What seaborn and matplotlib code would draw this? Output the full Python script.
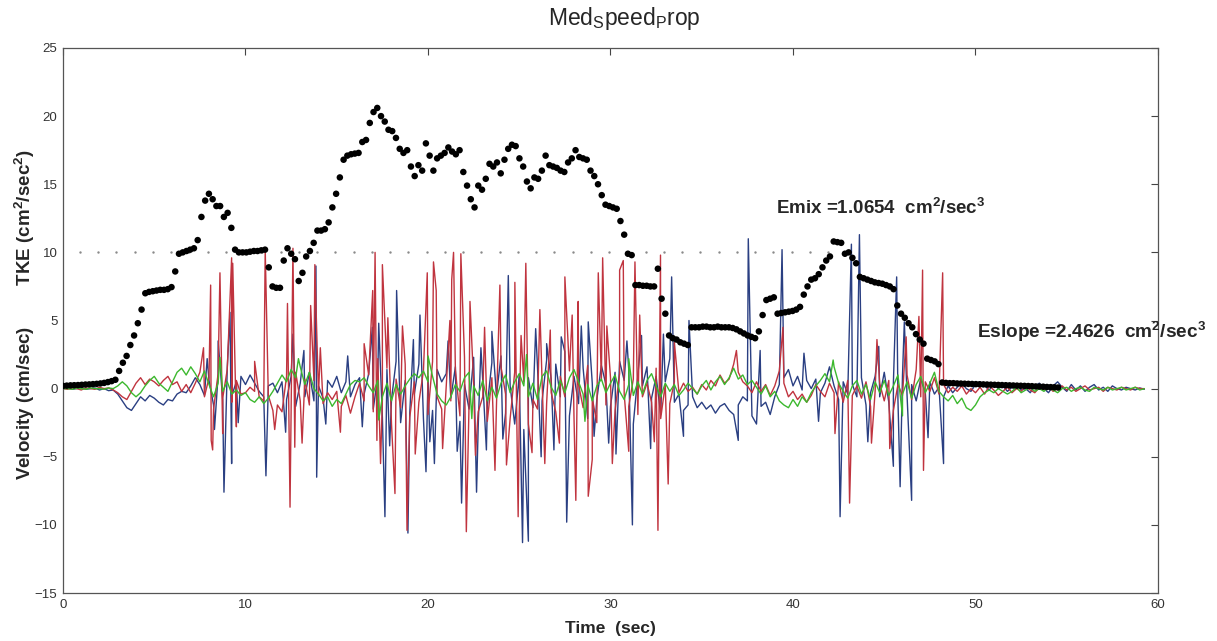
import numpy as np
import pandas as pd
import matplotlib
matplotlib.use("Agg")
import matplotlib.pyplot as plt
import seaborn as sns

# ---------------- data ----------------
title_text = r"Med$_\mathregular{S}$peed$_\mathregular{P}$rop"
x_ticks = [0, 10, 20, 30, 40, 50, 60]
y_ticks = [-15, -10, -5, 0, 5, 10, 15, 20, 25]
emix_text = r"Emix =1.0654  cm$^\mathregular{2}$/sec$^\mathregular{3}$"
eslope_text = r"Eslope =2.4626  cm$^\mathregular{2}$/sec$^\mathregular{3}$"
emix_level = 10.0

# TKE samples (one every 0.205 s)
tke_dt = 0.205
tke_vals = [
    0.20, 0.22, 0.24, 0.25, 0.26, 0.28, 0.30, 0.31, 0.33, 0.35, 0.38, 0.42, 0.48, 0.55, 0.65,
    1.3, 1.9, 2.4, 3.2, 3.9, 4.8, 5.8, 7.0, 7.1, 7.15,
    7.2, 7.25, 7.25, 7.3, 7.45, 8.6, 9.9, 10.0, 10.1, 10.2,
    10.3, 10.9, 12.6, 13.8, 14.3, 13.9, 13.4, 13.4, 12.6, 12.9,
    11.8, 10.2, 10.0, 10.0, 10.0, 10.05, 10.1, 10.1, 10.15, 10.2,
    8.9, 7.5, 7.4, 7.4, 9.4, 10.3, 9.9, 9.5, 7.9, 8.5,
    9.7, 10.1, 10.7, 11.6, 11.6, 11.7, 12.2, 13.3, 14.3, 15.5,
    16.8, 17.1, 17.2, 17.25, 17.3, 18.1, 18.25, 19.5, 20.3, 20.6,
    20.0, 19.6, 19.0, 18.9, 18.4, 17.6, 17.3, 17.5, 16.3, 15.6,
    16.4, 16.0, 18.0, 17.1, 16.0, 16.9, 17.1, 17.3, 17.7, 17.4,
    17.2, 17.5, 15.9, 14.9, 13.9, 13.3, 14.9, 14.6, 15.4, 16.5,
    16.3, 16.6, 15.8, 16.8, 17.6, 17.9, 17.8, 16.9, 16.3, 15.2,
    14.7, 15.5, 15.4, 16.0, 17.1, 16.4, 16.3, 16.2, 16.0, 15.9,
    16.6, 16.9, 17.5, 17.0, 16.9, 16.8, 16.0, 15.6, 15.0, 14.2,
    13.5, 13.4, 13.3, 13.2, 12.3, 11.3, 9.9, 9.8, 7.6, 7.6,
    7.55, 7.55, 7.5, 7.5, 8.8, 6.6, 5.5, 3.9, 3.7, 3.6,
    3.4, 3.3, 3.2, 4.5, 4.5, 4.5, 4.55, 4.55, 4.5, 4.5,
    4.55, 4.5, 4.5, 4.5, 4.45, 4.35, 4.2, 4.05, 3.9, 3.8,
    3.7, 4.2, 5.4, 6.5, 6.6, 6.7, 5.5, 5.55, 5.6, 5.65,
    5.7, 5.8, 6.0, 6.9, 7.5, 8.0, 8.1, 8.4, 8.9, 9.4,
    9.7, 10.8, 10.75, 10.7, 9.9, 10.0, 9.6, 9.2, 8.2, 8.1,
    8.0, 7.9, 7.8, 7.75, 7.7, 7.6, 7.5, 7.3, 6.1, 5.5,
    5.2, 4.8, 4.5, 4.0, 3.6, 3.3, 2.2, 2.1, 2.0, 1.8,
    0.45, 0.42, 0.40, 0.40, 0.38, 0.37, 0.36, 0.35, 0.34, 0.33,
    0.32, 0.31, 0.30, 0.29, 0.28, 0.27, 0.26, 0.25, 0.24, 0.23,
    0.22, 0.21, 0.20, 0.19, 0.18, 0.16, 0.15, 0.14, 0.12, 0.11,
    0.10, 0.08,
]

# velocity components, one sample every 0.25 s
vel_dt = 0.25
u_vals = [
    0.0, 0.05, -0.05, 0.0, 0.1, -0.05, 0.0, 0.05, -0.1, 0.0, -0.15, -0.1, -0.4, -0.9, -1.4, -1.6, -1.1, -0.6, -0.9, -0.5,
    -0.7, -1.0, -1.2, -0.8, -0.9, -0.4, -0.2, -0.3, 0.2, 0.8, 0.3, -0.5, 0.6, -1.2, 1.0, -0.8, 1.5, -0.5, 0.5, 0.9,
    0.3, 1.0, 0.4, -0.2, -0.6, 0.2, 0.4, -0.3, 0.5, -0.8, 0.9, -1.3, 0.4, -0.6, 1.2, -0.9, 0.2, -0.7, 0.6, 0.1,
    0.9, -0.3, 0.5, -0.6, 0.3, 0.8, -0.4, 1.1, -1.5, 0.9, -2.1, 1.4, -0.8, 2.0, -2.5, 0.6, -1.8, -0.4, 1.8, -2.2,
    0.9, -1.6, 1.4, 0.5, 1.1, -0.7, 1.6, -2.4, 0.3, -1.5, 2.3, -2.8, 0.6, -1.2, 1.9, -0.5, 2.4, -1.8, 0.2, -2.6,
    1.0, -3.0, 0.8, -1.4, 1.6, -0.9, 2.1, 0.7, 1.8, -0.6, 2.7, -2.0, 0.9, -1.1, 1.5, -2.2, 0.4, -0.8, 1.7, 0.3,
    -1.3, 1.2, 2.0, 0.6, 1.4, -2.6, 1.0, 0.2, 1.6, -0.7, 0.9, -1.9, 0.5, 2.2, -1.0, -0.4, -1.6, -1.2, -0.6, -1.4,
    -1.0, -1.5, -1.2, -1.8, -1.3, -1.1, -1.6, -1.9, -1.2, -0.6, -0.9, -2.0, -2.6, -1.3, -1.0, -1.9, -0.6, 0.3, 0.8, 1.4,
    0.2, 0.9, -0.1, 0.6, 0.0, 0.7, -0.3, 0.4, 1.6, 0.2, -0.8, 0.5, -0.4, 0.3, -0.6, 0.8, -1.2, -0.3, 0.9, -0.6,
    1.2, -1.0, 0.4, -0.8, 1.0, -0.5, 0.3, -0.9, 0.7, -0.3, 0.5, -0.4, 0.1, -0.6, 0.2, -0.3, 0.1, 0.4, 0.0, -0.2,
    0.3, 0.5, 0.2, -0.1, 0.3, 0.0, 0.2, -0.2, 0.1, 0.3, -0.1, 0.0, -0.3, 0.2, 0.4, 0.0, -0.3, 0.2, 0.5, 0.1,
    -0.2, 0.3, -0.1, 0.2, -0.2, 0.1, 0.3, -0.1, 0.1, -0.2, 0.2, 0.0, -0.1, 0.1, 0.0, -0.1, 0.05, -0.05,
]
v_vals = [
    0.0, -0.05, 0.05, 0.0, -0.1, 0.05, 0.0, -0.05, 0.1, 0.0, 0.05, -0.1, -0.3, -0.6, -0.8, -0.2, 0.4, 0.8, 0.3, 0.7,
    0.5, 0.2, 0.6, 0.9, 0.3, 0.5, -0.2, 0.3, -0.3, 0.4, 1.2, -0.6, 0.8, -1.5, 1.1, -0.7, 1.4, -1.0, 0.6, -0.4,
    -0.3, 0.1, -0.2, -0.6, -0.9, -0.5, -1.6, -1.2, -1.7, 0.9, -1.4, 1.2, -0.9, 0.7, -1.2, 0.6, -0.5, -1.1, -0.3, -0.8,
    -0.2, -1.3, -0.5, -1.8, -0.6, 0.4, -0.9, 1.0, -1.7, 2.2, -0.8, 1.5, -2.6, 0.7, -1.4, 1.8, -2.1, 0.5, -1.0, 1.3,
    -1.9, 2.0, -0.6, -1.5, 0.2, -0.9, 1.4, -2.0, 2.3, -1.1, 0.4, -1.7, -0.6, -2.4, 0.8, -1.3, 1.6, -0.4, -2.2, 1.2,
    -1.8, 0.5, -2.6, -0.8, -1.5, 0.6, -1.1, -0.3, -1.7, 0.9, -0.6, 1.3, -2.1, 0.3, -1.4, 1.7, -0.7, -2.5, 0.6, -1.2,
    0.8, -1.6, 1.1, -0.4, -1.3, 0.7, -1.9, -0.6, 0.4, -1.0, 1.5, -2.2, 0.3, -1.1, 0.5, -0.3, 0.4, -0.2, 0.1, -0.4,
    0.3, -0.1, 0.6, 0.2, 1.0, 0.4, 0.7, 1.8, 1.2, 0.5, 0.2, -0.3, 0.5, -0.2, 0.3, -0.5, 0.2, 1.3, 0.4, -0.6,
    -0.2, -0.8, -0.4, -1.0, -0.5, 0.3, -0.2, -0.6, 0.4, -0.3, 0.5, -1.0, 0.6, -0.5, 0.2, -0.7, 0.5, -1.3, -0.2, 0.4,
    -0.9, 0.6, -1.6, 0.3, -0.5, 1.0, -0.8, 1.4, -0.6, 0.5, -0.2, 0.8, -0.4, 0.3, -0.3, 0.1, -0.2, 0.2, -0.4, 0.0,
    -0.3, 0.1, -0.4, 0.2, -0.1, -0.5, -0.2, 0.1, -0.3, 0.0, -0.2, 0.2, -0.1, -0.3, 0.1, -0.1, 0.2, -0.2, 0.0, 0.2,
    -0.1, 0.1, -0.2, 0.0, 0.2, -0.1, 0.0, 0.1, -0.2, 0.1, 0.0, -0.1, 0.1, 0.0, -0.1, 0.1, 0.0, 0.0,
]
w_vals = [
    0.0, 0.0, -0.05, 0.05, 0.0, -0.05, 0.05, 0.0, 0.0, -0.05, 0.05, 0.0, 0.2, 0.5, 0.2, -0.3, -0.6, -0.3, 0.2, 0.6,
    0.9, 0.4, 0.1, -0.2, 0.5, 1.2, 1.5, 1.0, 1.6, 1.1, 0.5, 1.3, 0.3, -0.6, 0.4, -0.2, 0.5, -0.4, -0.1, -0.5,
    -0.3, -0.8, -1.0, -0.6, -1.1, -0.7, -0.2, 0.4, 1.0, 0.5, 1.4, 0.8, 1.6, 0.3, 1.2, 0.0, -0.4, -0.9, -0.6, -1.3,
    -0.8, -1.1, -0.4, 0.3, 0.6, 0.5, 0.8, 0.2, -0.3, 0.6, -0.6, 0.4, -0.9, 0.3, -0.4, 0.2, 0.7, 1.1, 0.8, 1.3,
    0.5, 0.9, -0.4, -0.9, -1.2, -0.6, 0.3, -0.2, 0.8, 1.2, 0.2, -0.5, 0.6, -0.9, 0.1, -0.7, 0.4, 1.0, -0.3, 0.5,
    1.1, 0.2, -0.6, 0.4, -0.8, 0.9, 1.3, 0.1, -0.5, 0.6, -0.3, 0.8, 1.4, 0.5, -0.4, 0.3, -0.9, 0.2, 0.7, -0.3,
    0.4, 1.0, -0.2, -0.8, 0.3, -0.5, 0.5, -0.4, 0.6, 1.1, 0.2, -0.6, 0.4, -0.2, 0.3, -0.5, -0.1, 0.4, 0.0, -0.4,
    0.2, 0.6, -0.1, 0.5, 0.9, 0.3, 0.8, 1.5, 0.7, 1.0, 0.3, 0.6, 0.1, -0.4, 0.2, -0.6, -0.2, -0.9, -1.2, -1.4,
    -0.8, -1.3, -0.6, -1.0, -0.3, 0.2, 0.6, 1.1, 0.5, 1.6, 0.4, -0.2, -0.7, 0.2, 0.6, -0.4, 0.3, -0.8, 0.5, -0.3,
    0.6, -0.5, 0.2, 1.0, -0.4, 0.5, -0.7, 0.3, 0.9, -0.3, 0.4, 1.2, -0.2, -0.6, -0.9, -0.5, -1.1, -0.7, -1.4, -1.6,
    -1.2, -0.6, -0.3, -0.1, -0.3, 0.0, -0.2, -0.4, -0.2, 0.1, -0.3, -0.1, 0.1, -0.2, 0.0, -0.2, 0.1, -0.1, -0.3, 0.0,
    0.1, -0.2, 0.0, 0.1, -0.1, -0.2, 0.1, 0.0, -0.1, 0.1, -0.1, 0.0, 0.1, -0.1, 0.0, 0.1, -0.1, 0.0,
]

# short velocity spikes (time, value)
u_spike_t = [7.9, 8.3, 8.5, 8.82, 9.15, 9.24, 9.6, 11.12, 12.2, 12.6, 13.2, 13.86, 13.9, 14.4,
             15.6, 16.4, 16.95, 17.3, 17.64, 17.9, 18.28, 18.9, 19.2, 19.56, 19.89, 20.1, 20.35,
             21.1, 21.6, 21.84, 22.66, 22.9, 23.2, 23.5, 24.1, 24.4, 25.18, 25.5, 25.9, 26.2, 26.5,
             26.9, 27.3, 27.6, 28.4, 28.78, 29.1, 29.9, 30.3, 30.9, 31.2, 31.7, 32.2, 32.9, 33.35,
             34.0, 34.3, 37.0, 37.55, 38.2, 39.4, 40.6, 41.4, 42.58, 43.2, 43.64, 44.1, 44.7, 45.5,
             45.68, 45.87, 46.1, 46.5, 47.4, 48.25]
u_spike_v = [2.2, -3.0, 3.5, -7.6, 5.6, -5.5, -2.5, -6.4, -3.2, 4.0, 2.8, 9.0, -6.5, -2.6,
             2.4, -2.8, 4.5, 4.8, -9.4, -4.2, 7.2, -10.6, 3.6, 5.4, -6.1, -3.9, -5.5,
             3.5, -4.6, -8.4, -7.6, 3.0, -4.5, 4.2, -3.7, 8.3, -11.3, -11.2, 4.4, -5.0, 3.3,
             -4.5, 3.8, -9.8, 4.6, 4.9, -3.5, -4.0, -4.8, 3.5, -10.0, 3.9, -4.4, 4.0, 8.2,
             -3.5, 5.0, -3.8, 11.0, 2.8, 10.2, 2.6, -2.4, -9.4, 10.6, 11.3, -3.9, 3.1, -5.7,
             8.2, -7.2, 4.9, -8.2, -3.6, -5.5]
v_spike_t = [7.7, 8.09, 8.12, 8.2, 8.6, 8.75, 9.24, 9.3, 9.5, 10.5, 11.08, 11.6, 12.3, 12.44,
             12.6, 12.7, 13.1, 13.57, 13.8, 14.1, 15.2, 16.5, 16.97, 17.1, 17.2, 17.4, 17.5, 17.8,
             18.19, 18.6, 18.85, 19.3, 19.96, 20.3, 20.45, 20.8, 21.2, 21.3, 21.4, 21.8, 22.1, 22.3,
             22.6, 23.1, 23.67, 23.94, 24.3, 24.76, 24.94, 25.1, 25.36, 25.7, 26.13, 26.4, 26.7,
             27.2, 27.5, 27.9, 28.1, 28.23, 28.78, 29.0, 29.33, 29.57, 29.8, 30.1, 30.5, 30.7, 31.0,
             31.34, 31.6, 32.4, 32.6, 32.74, 33.16, 33.5, 36.9, 39.45, 42.3, 43.1, 44.3, 44.6, 45.3,
             46.2, 46.9, 47.1, 47.15, 48.2]
v_spike_v = [3.0, 7.6, -3.8, -4.5, 8.5, -3.3, 9.6, 9.2, -2.8, 2.0, 10.2, -3.0, 6.25, -8.7,
             10.3, -4.3, -4.0, 6.1, 9.1, 3.0, -3.2, 3.3, 7.2, 10.0, -3.8, -5.5, 9.1, 5.2,
             -7.7, 4.6, -10.4, -4.8, 8.5, 9.3, 7.2, -4.4, 5.0, 8.0, 10.0, 9.9, -10.5, 6.4,
             -4.9, 4.5, -6.0, 7.6, -5.6, 7.8, -9.4, 3.9, 9.2, -4.7, 5.8, -5.5, 4.3,
             -4.0, 8.2, 5.4, -8.2, 6.4, -7.9, -5.2, 8.5, 9.6, 4.6, -5.5, 8.7, 9.4, -4.6,
             9.3, 5.4, -3.9, -10.4, 9.8, -7.0, 3.4, 2.8, 4.5, -3.3, -8.4, -4.0, 3.6, -4.4,
             3.8, 5.3, 8.7, -6.0, 8.5]
w_spike_t = [8.6, 12.9, 17.3, 20.0, 22.4, 25.4, 28.6, 31.0, 42.2, 46.0]
w_spike_v = [2.3, 2.2, -2.3, 2.4, -2.2, 2.5, -2.4, 2.2, 2.1, -2.0]

# ---------------- tables ----------------
def component(name, vals, sp_t, sp_v):
    base = pd.DataFrame({"t": np.arange(len(vals)) * vel_dt, "v": vals})
    spikes = pd.DataFrame({"t": sp_t, "v": sp_v})
    df = pd.concat([base, spikes], ignore_index=True).sort_values("t")
    df["comp"] = name
    return df

vel = pd.concat([
    component("u", u_vals, u_spike_t, u_spike_v),
    component("v", v_vals, v_spike_t, v_spike_v),
    component("w", w_vals, w_spike_t, w_spike_v),
], ignore_index=True)

tke = pd.DataFrame({"t": np.arange(len(tke_vals)) * tke_dt, "k": tke_vals})
emix_x = np.arange(0.93, 42.0, 1.0)

# ---------------- figure ----------------
sns.set_style("white")
plt.rcParams["font.family"] = ["Liberation Sans", "DejaVu Sans"]

W, H = 1217, 641
fig = plt.figure(figsize=(W / 100, H / 100), dpi=100)
ax = fig.add_axes([63 / W, 1 - 593 / H, (1158 - 63) / W, (593 - 48) / H])

sns.lineplot(data=vel, x="t", y="v", hue="comp", hue_order=["u", "v", "w"],
             palette={"u": "#2a3f82", "v": "#c0343f", "w": "#3cb82e"},
             estimator=None, sort=True, legend=False, linewidth=1.0, ax=ax)

ax.scatter(emix_x, np.full(len(emix_x), emix_level), s=3, color="#8a8a8a",
           linewidths=0, zorder=3)
sns.scatterplot(data=tke, x="t", y="k", color="black", s=22, linewidth=0,
                edgecolor="none", ax=ax, zorder=4)

ax.set_xlim(0, 60)
ax.set_ylim(-15, 25)
ax.set_xticks(x_ticks)
ax.set_yticks(y_ticks)
ax.set_xlabel("")
ax.set_ylabel("")
tick_font = ["Liberation Sans Narrow", "Liberation Sans", "DejaVu Sans"]
ax.tick_params(direction="in", top=True, right=True, length=5, width=0.8,
               colors="#444444", labelsize=9.5, pad=4)
for lab in ax.get_xticklabels() + ax.get_yticklabels():
    lab.set_family(tick_font)
    lab.set_color("#333333")
for s in ax.spines.values():
    s.set_color("#555555")
    s.set_linewidth(0.9)

ax.text(39.07, 13.3, emix_text, fontsize=13.5, fontweight="bold", va="center", ha="left")
ax.text(50.1, 4.2, eslope_text, fontsize=13.7, fontweight="bold", va="center", ha="left",
        clip_on=False)

fig.text(624 / W, 1 - 18 / H, title_text, ha="center", va="center", fontsize=16.5)
fig.text(610 / W, 1 - 628 / H, "Time  (sec)", ha="center", va="center",
         fontsize=12.5, fontweight="bold")
fig.text(25 / W, 1 - 315 / H,
         r"Velocity (cm/sec)        TKE (cm$^\mathregular{2}$/sec$^\mathregular{2}$)",
         ha="center", va="center", rotation=90, fontsize=13.5, fontweight="bold")

fig.savefig("out.png", dpi=100, facecolor="white")
